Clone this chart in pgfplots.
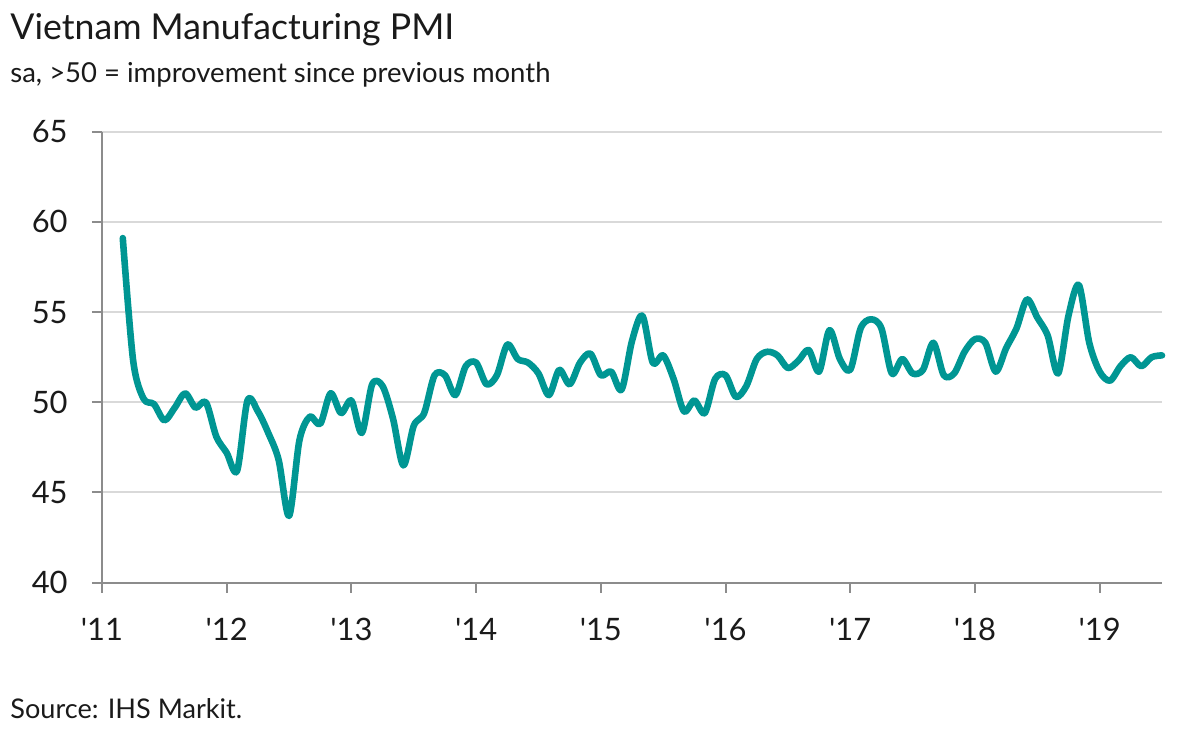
\documentclass[border=0pt]{standalone}
\usepackage{pgfplots}
\pgfplotsset{compat=1.18}
\usepackage{fontspec}
\setmainfont{Lato}
\definecolor{teal1}{HTML}{009693}
\definecolor{axgray}{HTML}{8C8C8C}
\definecolor{grgray}{HTML}{D9D9D9}
\definecolor{txt}{HTML}{1A1A1A}
\pgfplotstableread{
m v
2 59.1
3 52.3
4 50.2
5 49.9
6 49.0
7 49.7
8 50.5
9 49.7
10 50.0
11 48.1
12 47.2
13 46.2
14 50.1
15 49.5
16 48.3
17 46.8
18 43.7
19 47.9
20 49.2
21 48.8
22 50.5
23 49.4
24 50.1
25 48.3
26 51.0
27 50.9
28 49.1
29 46.5
30 48.7
31 49.4
32 51.5
33 51.5
34 50.4
35 52.0
36 52.2
37 51.0
38 51.5
39 53.2
40 52.4
41 52.2
42 51.6
43 50.4
44 51.8
45 51.0
46 52.2
47 52.7
48 51.5
49 51.7
50 50.7
51 53.4
52 54.8
53 52.2
54 52.6
55 51.3
56 49.5
57 50.1
58 49.4
59 51.3
60 51.5
61 50.3
62 50.9
63 52.4
64 52.8
65 52.6
66 51.9
67 52.3
68 52.9
69 51.7
70 54.0
71 52.4
72 51.8
73 54.1
74 54.6
75 54.1
76 51.6
77 52.4
78 51.6
79 51.8
80 53.3
81 51.5
82 51.6
83 52.8
84 53.5
85 53.3
86 51.7
87 53.0
88 54.1
89 55.7
90 54.7
91 53.7
92 51.6
93 54.8
94 56.5
95 53.3
96 51.7
97 51.2
98 52.0
99 52.5
100 52.0
101 52.5
102 52.6
}\pmi
\begin{document}
\begin{tikzpicture}
\path[use as bounding box] (0,0) rectangle (592bp,366bp);
\begin{axis}[
  at={(51bp,74.65bp)}, anchor=south west,
  scale only axis, width=530bp, height=225.5bp,
  xmin=0, xmax=102, ymin=40, ymax=65,
  axis x line*=bottom, axis y line*=left,
  axis line style={draw=axgray, line width=1bp},
  every tick/.style={draw=axgray, line width=1bp},
  tick align=outside, major tick length=5bp,
  xtick={0,12,24,36,48,60,72,84,96},
  xticklabels={\textquotesingle11,\textquotesingle12,\textquotesingle13,\textquotesingle14,\textquotesingle15,\textquotesingle16,\textquotesingle17,\textquotesingle18,\textquotesingle19},
  ytick={40,45,50,55,60,65},
  ymajorgrids, grid style={draw=grgray, line width=1bp},
  tick label style={font=\fontsize{15.5}{18}\selectfont, text=txt},
  /pgf/number format/assume math mode=true,
  xticklabel style={anchor=base, inner sep=0pt, yshift=-24bp},
  yticklabel style={anchor=east, inner sep=0pt, xshift=-12bp},
  clip=false,
]
\addplot[teal1, line width=3.3bp, smooth, line join=round, line cap=round] table[x=m,y=v] {\pmi};
\end{axis}
\node[anchor=base west, inner sep=0pt, text=txt, font=\fontsize{17.9}{22}\selectfont] at (5bp,346bp) {Vietnam Manufacturing PMI};
\node[anchor=base west, inner sep=0pt, text=txt, font=\fontsize{13.8}{16}\selectfont] at (5bp,324.5bp) {sa, >50 = improvement since previous month};
\node[anchor=base west, inner sep=0pt, text=txt, font=\fontsize{13.6}{16}\selectfont] at (5bp,7bp) {Source: IHS Markit.};
\end{tikzpicture}
\end{document}
